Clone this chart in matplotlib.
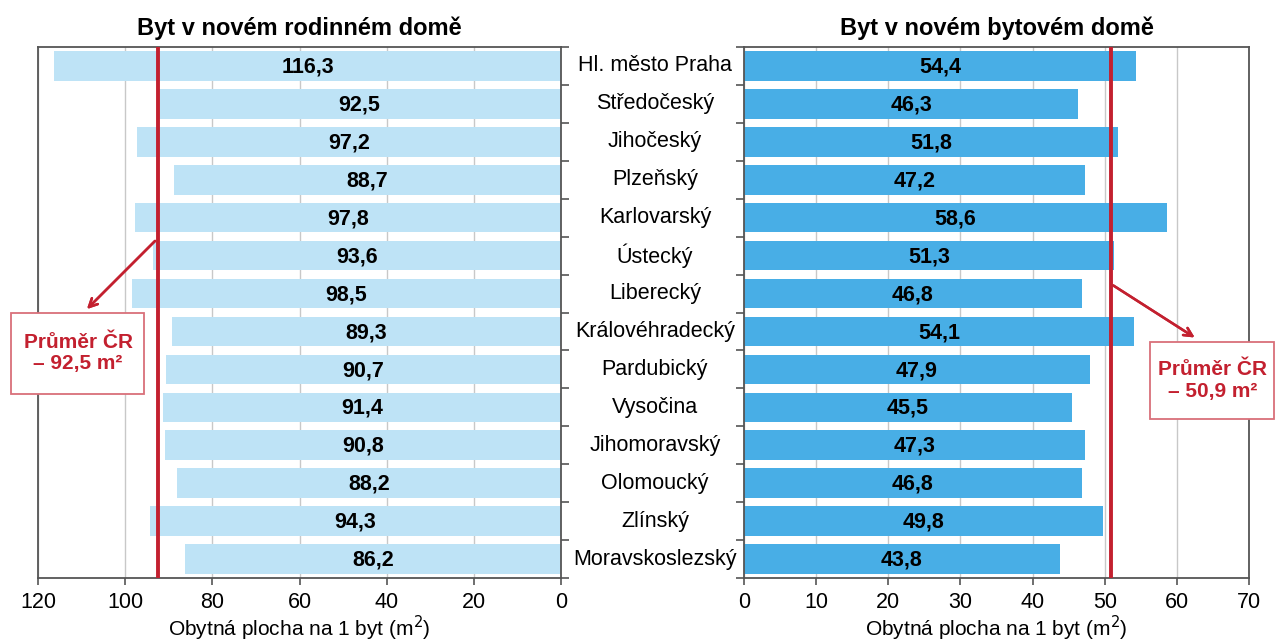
import matplotlib
matplotlib.use('Agg')
import matplotlib.pyplot as plt
from matplotlib.patches import Rectangle
import numpy as np

plt.rcParams['font.family'] = ['Liberation Sans', 'DejaVu Sans']

# Kraje
kraje = ['Hl. město Praha', 'Středočeský', 'Jihočeský', 'Plzeňský', 'Karlovarský',
         'Ústecký', 'Liberecký', 'Královéhradecký', 'Pardubický', 'Vysočina',
         'Jihomoravský', 'Olomoucký', 'Zlínský', 'Moravskoslezský']

# Obytná plocha na 1 byt (m2)
rodinne = [116.3, 92.5, 97.2, 88.7, 97.8, 93.6, 98.5, 89.3, 90.7, 91.4, 90.8, 88.2, 94.3, 86.2]
bytove = [54.4, 46.3, 51.8, 47.2, 58.6, 51.3, 46.8, 54.1, 47.9, 45.5, 47.3, 46.8, 49.8, 43.8]

prumer_rod = 92.5
prumer_byt = 50.9

W, H = 1275, 641
fig = plt.figure(figsize=(W / 100, H / 100), dpi=100)

red = '#C3202F'
frame = '#555555'
y = np.arange(len(kraje))


def fmt(v):
    return f'{v:.1f}'.replace('.', ',')


def fx(px):
    return px / W


def fy(py):
    return 1 - py / H


def setup(ax):
    for s in ax.spines.values():
        s.set_color(frame)
        s.set_linewidth(1.3)
    ax.set_ylim(len(kraje) - 0.5, -0.5)
    ax.set_yticks(np.arange(len(kraje) + 1) - 0.5)
    ax.set_yticklabels([])
    ax.tick_params(axis='y', length=6, color=frame, width=1.2)
    ax.tick_params(axis='x', length=5, color=frame, width=1.2, labelsize=15.5, pad=5)
    ax.grid(axis='x', color='#C8C8C8', linewidth=1)
    ax.set_axisbelow(True)
    ax.set_xlabel('Obytná plocha na 1 byt (m$^2$)', fontsize=15, labelpad=1)


# levý graf
ax1 = fig.add_axes([fx(38), fy(578), fx(561 - 38), (578 - 47) / H])
ax1.barh(y, rodinne, height=0.78, color='#BEE3F6')
ax1.set_xlim(120, 0)
ax1.set_xticks(range(0, 121, 20))
setup(ax1)
ax1.yaxis.tick_right()
ax1.axvline(prumer_rod, color=red, linewidth=2.8, zorder=3)
for i, v in enumerate(rodinne):
    ax1.text(v / 2, i + 0.03, fmt(v), ha='center', va='center', fontsize=15.5, fontweight='bold', zorder=4)
ax1.set_title('Byt v novém rodinném domě', fontsize=17, fontweight='bold', pad=9)

# pravý graf
ax2 = fig.add_axes([fx(744), fy(578), fx(1249 - 744), (578 - 47) / H])
ax2.barh(y, bytove, height=0.78, color='#48AEE6')
ax2.set_xlim(0, 70)
ax2.set_xticks(range(0, 71, 10))
setup(ax2)
ax2.axvline(prumer_byt, color=red, linewidth=2.8, zorder=3)
for i, v in enumerate(bytove):
    ax2.text(v / 2, i + 0.03, fmt(v), ha='center', va='center', fontsize=15.5, fontweight='bold', zorder=4)
ax2.set_title('Byt v novém bytovém domě', fontsize=17, fontweight='bold', pad=9)

# názvy krajů uprostřed
for i, k in enumerate(kraje):
    yy = ax1.transData.transform((0, i))[1]
    fig.text(fx(655), yy / H, k, ha='center', va='center', fontsize=15.5)

# průměry ČR
fig.add_artist(Rectangle((fx(11), fy(394)), fx(144 - 11), (394 - 313) / H, transform=fig.transFigure,
                         facecolor='white', edgecolor='#D9707A', linewidth=1.3))
fig.add_artist(Rectangle((fx(1150), fy(419)), fx(1274 - 1150), (419 - 342) / H, transform=fig.transFigure,
                         facecolor='white', edgecolor='#D9707A', linewidth=1.3))
fig.text(fx(78), fy(353), 'Průměr ČR\n– 92,5 m²', ha='center', va='center',
         color=red, fontsize=15, fontweight='bold', linespacing=1.2)
fig.text(fx(1213), fy(380), 'Průměr ČR\n– 50,9 m²', ha='center', va='center',
         color=red, fontsize=15, fontweight='bold', linespacing=1.2)

arrow = dict(arrowstyle='->', color=red, linewidth=1.8, mutation_scale=15)
fig.add_artist(plt.annotate('', xy=(fx(85), fy(311)), xytext=(fx(157), fy(239)),
                            xycoords='figure fraction', arrowprops=arrow))
fig.add_artist(plt.annotate('', xy=(fx(1197), fy(339)), xytext=(fx(1111), fy(284)),
                            xycoords='figure fraction', arrowprops=arrow))

fig.savefig('out.png', dpi=100)
